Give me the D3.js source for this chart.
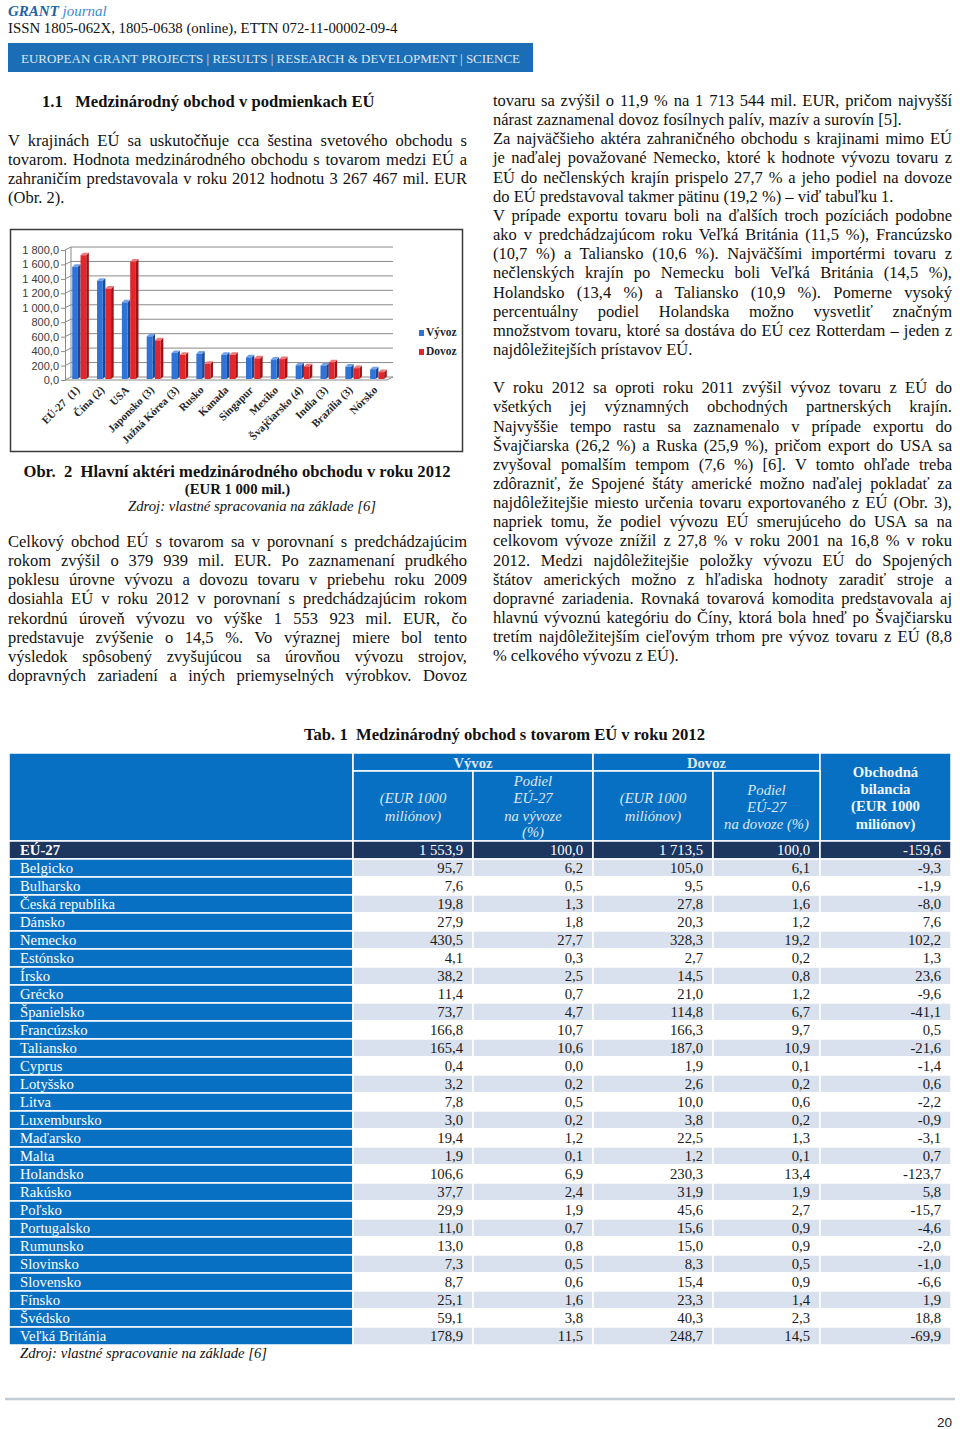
<!DOCTYPE html>
<html><head><meta charset="utf-8">
<script src="https://cdn.jsdelivr.net/npm/d3@7"></script>
<style>
html,body{margin:0;padding:0;background:#fff;}
svg{display:block;}
</style></head><body>
<svg id="page" width="960" height="1429"></svg>
<script>
// ---------------- DATA ----------------
const chartCategories = ["EÚ-27  (1)","Čína (2)","USA","Japonsko (3)","Južná Kórea (3)","Rusko","Kanada","Singapur","Mexiko","Švajčiarsko (4)","India (3)","Brazília (3)","Nórsko"];
const chartExport = [1553.9, 1360, 1060, 590, 360, 350, 335, 300, 270, 190, 185, 170, 135];
const chartImport = [1713.5, 1250, 1625, 535, 335, 210, 335, 285, 275, 175, 230, 150, 95];
const chartSeries = ["Vývoz","Dovoz"];
const yTicks = [0,200,400,600,800,1000,1200,1400,1600,1800];

const tableCountries = ["EÚ-27","Belgicko","Bulharsko","Česká republika","Dánsko","Nemecko","Estónsko","Írsko","Grécko","Španielsko","Francúzsko","Taliansko","Cyprus","Lotyšsko","Litva","Luxembursko","Maďarsko","Malta","Holandsko","Rakúsko","Poľsko","Portugalsko","Rumunsko","Slovinsko","Slovensko","Fínsko","Švédsko","Veľká Británia"];
const exportValues = [1553.9,95.7,7.6,19.8,27.9,430.5,4.1,38.2,11.4,73.7,166.8,165.4,0.4,3.2,7.8,3.0,19.4,1.9,106.6,37.7,29.9,11.0,13.0,7.3,8.7,25.1,59.1,178.9];
const exportShare = [100.0,6.2,0.5,1.3,1.8,27.7,0.3,2.5,0.7,4.7,10.7,10.6,0.0,0.2,0.5,0.2,1.2,0.1,6.9,2.4,1.9,0.7,0.8,0.5,0.6,1.6,3.8,11.5];
const importValues = [1713.5,105.0,9.5,27.8,20.3,328.3,2.7,14.5,21.0,114.8,166.3,187.0,1.9,2.6,10.0,3.8,22.5,1.2,230.3,31.9,45.6,15.6,15.0,8.3,15.4,23.3,40.3,248.7];
const importShare = [100.0,6.1,0.6,1.6,1.2,19.2,0.2,0.8,1.2,6.7,9.7,10.9,0.1,0.2,0.6,0.2,1.3,0.1,13.4,1.9,2.7,0.9,0.9,0.5,0.9,1.4,2.3,14.5];
const tradeBalance = [-159.6,-9.3,-1.9,-8.0,7.6,102.2,1.3,23.6,-9.6,-41.1,0.5,-21.6,-1.4,0.6,-2.2,-0.9,-3.1,0.7,-123.7,5.8,-15.7,-4.6,-2.0,-1.0,-6.6,1.9,18.8,-69.9];

const introLines = [
 "V krajinách EÚ sa uskutočňuje cca šestina svetového obchodu s",
 "tovarom. Hodnota medzinárodného obchodu s tovarom medzi EÚ a",
 "zahraničím  predstavovala v roku 2012 hodnotu 3 267 467 mil. EUR",
 "(Obr. 2)."
];
const leftLowerLines = [
 "Celkový obchod EÚ s tovarom sa v porovnaní s predchádzajúcim",
 "rokom zvýšil o 379 939 mil. EUR. Po zaznamenaní prudkého",
 "poklesu úrovne vývozu a dovozu tovaru v priebehu roku 2009",
 "dosiahla EÚ v roku 2012 v porovnaní s predchádzajúcim rokom",
 "rekordnú úroveň vývozu vo výške 1 553 923 mil. EUR, čo",
 "predstavuje zvýšenie o 14,5 %. Vo výraznej miere bol tento",
 "výsledok spôsobený zvyšujúcou sa úrovňou vývozu strojov,",
 "dopravných zariadení a iných priemyselných výrobkov. Dovoz"
];
const rightParagraphs = [
 ["tovaru sa zvýšil o 11,9 % na 1 713 544 mil. EUR, pričom najvyšší",
  "nárast zaznamenal dovoz fosílnych palív, mazív a surovín [5]."],
 ["Za najväčšieho aktéra zahraničného obchodu s krajinami mimo EÚ",
  "je naďalej považované Nemecko, ktoré k hodnote vývozu tovaru z",
  "EÚ do nečlenských krajín prispelo 27,7 % a jeho podiel na dovoze",
  "do EÚ predstavoval takmer pätinu (19,2 %) – viď tabuľku 1."],
 ["V prípade exportu tovaru boli na ďalších troch pozíciách podobne",
  "ako v predchádzajúcom roku Veľká Británia (11,5 %), Francúzsko",
  "(10,7 %) a Taliansko (10,6 %). Najväčšími importérmi tovaru z",
  "nečlenských krajín po Nemecku boli Veľká Británia (14,5 %),",
  "Holandsko (13,4 %) a Taliansko (10,9 %). Pomerne vysoký",
  "percentuálny podiel Holandska možno vysvetliť značným",
  "množstvom tovaru, ktoré sa dostáva do EÚ cez Rotterdam – jeden z",
  "najdôležitejších prístavov EÚ."],
 ["V roku 2012 sa oproti roku 2011 zvýšil vývoz tovaru z EÚ do",
  "všetkých jej významných obchodných partnerských krajín.",
  "Najvyššie tempo rastu sa zaznamenalo v prípade exportu do",
  "Švajčiarska (26,2 %) a Ruska (25,9 %), pričom export do USA sa",
  "zvyšoval pomalším tempom (7,6 %) [6]. V tomto ohľade treba",
  "zdôrazniť, že Spojené štáty americké možno naďalej pokladať za",
  "najdôležitejšie miesto určenia tovaru exportovaného z EÚ (Obr. 3),",
  "napriek tomu, že podiel vývozu EÚ smerujúceho do USA sa na",
  "celkovom vývoze znížil z 27,8 % v roku 2001 na 16,8 % v roku",
  "2012. Medzi najdôležitejšie položky vývozu EÚ do Spojených",
  "štátov amerických  možno z hľadiska hodnoty zaradiť stroje a",
  "dopravné zariadenia. Rovnaká tovarová komodita predstavovala aj",
  "hlavnú vývoznú kategóriu do Číny, ktorá bola hneď po Švajčiarsku",
  "tretím najdôležitejším cieľovým trhom pre vývoz tovaru z EÚ (8,8",
  "% celkového vývozu z EÚ)."]
];

// ---------------- HELPERS ----------------
const svg = d3.select("#page");
const serif = "'Liberation Serif','Times New Roman',Times,serif";
const sans = "'Liberation Sans',Arial,sans-serif";
const loc = d3.formatLocale({decimal: ",", thousands: " ", grouping: [3], currency: ["", ""], minus: "-"});
const fmt = loc.format(",.1f");

function txt(g, str, x, y, o = {}) {
  const t = g.append("text").attr("x", x).attr("y", y)
    .attr("font-family", o.family || serif)
    .attr("font-size", o.size || 16.5)
    .attr("fill", o.fill || "#111")
    .attr("text-anchor", o.anchor || "start")
    .attr("font-weight", o.weight || "normal")
    .attr("font-style", o.style || "normal")
    .style("white-space", "pre")
    .text(o.justify ? str.replace(/\s+/g, " ") : str);
  if (o.justify) {
    const nat = t.node().getComputedTextLength();
    const n = (str.replace(/\s+/g, " ").match(/ /g) || []).length;
    if (n > 0) t.attr("word-spacing", (o.justify - nat) / n);
  }
  if (o.len) t.attr("textLength", o.len).attr("lengthAdjust", "spacingAndGlyphs");
  return t;
}

// ---------------- PAGE HEADER ----------------
const hdr = svg.append("g");
const gj = hdr.append("text").attr("x", 8).attr("y", 16).attr("font-family", serif).attr("font-size", 15).attr("font-style", "italic");
gj.append("tspan").attr("font-weight", "bold").attr("fill", "#2163a6").text("GRANT");
gj.append("tspan").attr("fill", "#3d8ccf").text(" journal");
txt(hdr, "ISSN 1805-062X, 1805-0638 (online), ETTN 072-11-00002-09-4", 8, 33, {size: 14.8});
hdr.append("rect").attr("x", 8).attr("y", 43).attr("width", 525).attr("height", 29).attr("fill", "#1b6db5");
txt(hdr, "EUROPEAN GRANT PROJECTS | RESULTS | RESEARCH & DEVELOPMENT | SCIENCE", 21, 63, {size: 13.5, fill: "#dce8f4", len: 499});

// ---------------- BODY TEXT ----------------
const body = svg.append("g");
txt(body, "1.1   Medzinárodný obchod v podmienkach EÚ", 42, 107, {weight: "bold", size: 16.6});
const LH = 19.15;
introLines.forEach((l, i) => txt(body, l, 8, 146 + i * LH, {justify: i < introLines.length - 1 ? 459 : 0}));
leftLowerLines.forEach((l, i) => txt(body, l, 8, 547 + i * LH, {justify: 459}));
let idx = 0;
rightParagraphs.forEach((p, pi) => {
  if (pi === 3) idx += 1;
  p.forEach((l, i) => {
    txt(body, l, 493, 106 + idx * LH, {justify: i < p.length - 1 ? 459 : 0});
    idx++;
  });
});

// ---------------- CHART ----------------
const ch = svg.append("g");
ch.append("rect").attr("x", 10.5).attr("y", 229.5).attr("width", 452).attr("height", 222)
  .attr("fill", "#fff").attr("stroke", "#3a3a3a").attr("stroke-width", 1.5);

const wallDX = 6, wallDY = 3;
const yFront = d3.scaleLinear().domain([0, 1800]).range([380, 250]);
const yBack = v => yFront(v) - wallDY;
const axL = 65, backL = axL + wallDX, backR = 393;
const gridCol = "#8a8a8a";

const grid = ch.append("g");
yTicks.forEach(v => {
  grid.append("line").attr("x1", backL).attr("x2", backR).attr("y1", yBack(v)).attr("y2", yBack(v)).attr("stroke", gridCol).attr("stroke-width", 1);
  grid.append("line").attr("x1", axL).attr("x2", backL).attr("y1", yFront(v)).attr("y2", yBack(v)).attr("stroke", gridCol).attr("stroke-width", 1);
});
grid.append("line").attr("x1", backL).attr("x2", backL).attr("y1", yBack(0)).attr("y2", yBack(1800)).attr("stroke", gridCol);
grid.append("line").attr("x1", axL).attr("x2", backR - wallDX).attr("y1", yFront(0)).attr("y2", yFront(0)).attr("stroke", gridCol);
grid.append("line").attr("x1", backR - wallDX).attr("x2", backR).attr("y1", yFront(0)).attr("y2", yBack(0)).attr("stroke", gridCol);

const yAxis = d3.axisLeft(yFront).tickValues(yTicks).tickFormat(fmt).tickSize(4).tickPadding(2);
const yg = ch.append("g").attr("transform", `translate(${axL},0)`).call(yAxis);
yg.select(".domain").attr("stroke", gridCol);
yg.selectAll(".tick line").attr("stroke", gridCol);
yg.selectAll(".tick text").attr("font-family", sans).attr("font-size", 11).attr("fill", "#3a3a3a");

const x = d3.scaleBand().domain(chartCategories).range([68, 391]).paddingInner(0.33).paddingOuter(0.17);
const xs = d3.scaleBand().domain(chartSeries).range([0, x.bandwidth()]);
const colors = {
  "Vývoz": {front: "#2f72d8", side: "#1b4896", top: "#74a3ec"},
  "Dovoz": {front: "#e3262b", side: "#9e1416", top: "#f07a7a"}
};
const bdx = 2.6, bdy = 2.6;
const barsG = ch.append("g");
chartCategories.forEach((c, i) => {
  [["Vývoz", chartExport[i]], ["Dovoz", chartImport[i]]].forEach(([s, v]) => {
    const x0 = x(c) + xs(s), x1 = x0 + xs.bandwidth() - bdx;
    const yt = yFront(v) - 1, yb = yFront(0) - 1;
    const col = colors[s];
    barsG.append("polygon").attr("points", [[x1, yt], [x1 + bdx, yt - bdy], [x1 + bdx, yb - bdy], [x1, yb]].join(" ")).attr("fill", col.side);
    barsG.append("polygon").attr("points", [[x0, yt], [x0 + bdx, yt - bdy], [x1 + bdx, yt - bdy], [x1, yt]].join(" ")).attr("fill", col.top);
    barsG.append("rect").attr("x", x0).attr("y", yt).attr("width", x1 - x0).attr("height", yb - yt).attr("fill", col.front);
  });
});

const xAxis = d3.axisBottom(x).tickSize(0).tickPadding(0);
const xg = ch.append("g").attr("transform", `translate(-3,${yFront(0) + 8})`).call(xAxis);
xg.select(".domain").remove();
xg.selectAll(".tick text")
  .attr("font-family", serif).attr("font-weight", "bold").attr("font-size", 11).attr("fill", "#262626")
  .attr("text-anchor", "end").attr("dy", "0.35em").attr("y", 0).attr("x", 0)
  .attr("transform", "rotate(-45)").style("white-space", "pre");

const lg = ch.append("g");
chartSeries.forEach((s, i) => {
  lg.append("rect").attr("x", 419).attr("y", 330 + i * 19).attr("width", 5).attr("height", 6).attr("fill", colors[s].front);
  txt(lg, s, 426, 336 + i * 19, {size: 11.5, weight: "bold", fill: "#262626"});
});

txt(body, "Obr.  2  Hlavní aktéri medzinárodného obchodu v roku 2012", 237, 477, {weight: "bold", size: 16.6, anchor: "middle"});
txt(body, "(EUR 1 000 mil.)", 237.5, 494, {weight: "bold", size: 14.7, anchor: "middle"});
txt(body, "Zdroj: vlastné spracovania na základe [6]", 252, 511, {style: "italic", size: 14.7, anchor: "middle"});

// ---------------- TABLE ----------------
const tb = svg.append("g");
txt(tb, "Tab. 1  Medzinárodný obchod s tovarom EÚ v roku 2012", 504.5, 740, {weight: "bold", size: 16.6, anchor: "middle"});
const colX = [9, 353, 473, 593, 713, 820, 951];
const hdrBlue = "#0870c2", navy = "#1c365f", light = "#d9e1ee";
const hTop = 753, hMid = 771, hBot = 841;
function cell(x0, y0, x1, y1, fill) {
  tb.append("rect").attr("x", x0).attr("y", y0).attr("width", x1 - x0).attr("height", y1 - y0)
    .attr("fill", fill).attr("stroke", "#fff").attr("stroke-width", 1.5);
}
cell(colX[0], hTop, colX[1], hBot, hdrBlue);
cell(colX[1], hTop, colX[3], hMid, hdrBlue);
cell(colX[3], hTop, colX[5], hMid, hdrBlue);
cell(colX[5], hTop, colX[6], hBot, hdrBlue);
for (let c = 1; c < 5; c++) cell(colX[c], hMid, colX[c + 1], hBot, hdrBlue);
const hf = "#dfe8f4";
txt(tb, "Vývoz", (colX[1] + colX[3]) / 2, 768, {weight: "bold", size: 14.7, fill: hf, anchor: "middle"});
txt(tb, "Dovoz", (colX[3] + colX[5]) / 2, 768, {weight: "bold", size: 14.7, fill: hf, anchor: "middle"});
const hIt = {style: "italic", size: 14.7, fill: hf, anchor: "middle"};
[["(EUR 1000", 803], ["miliónov)", 821]].forEach(([s, y]) => {
  txt(tb, s, (colX[1] + colX[2]) / 2, y, hIt);
  txt(tb, s, (colX[3] + colX[4]) / 2, y, hIt);
});
[["Podiel", 786], ["EÚ-27", 803], ["na vývoze", 821], ["(%)", 837]].forEach(([s, y]) => txt(tb, s, (colX[2] + colX[3]) / 2, y, hIt));
[["Podiel", 795], ["EÚ-27", 812], ["na dovoze (%)", 829]].forEach(([s, y]) => txt(tb, s, (colX[4] + colX[5]) / 2, y, hIt));
[["Obchodná", 777], ["bilancia", 794], ["(EUR 1000", 811], ["miliónov)", 829]].forEach(([s, y]) =>
  txt(tb, s, (colX[5] + colX[6]) / 2, y, {weight: "bold", size: 14.7, fill: "#f2f6fb", anchor: "middle"}));

const yRow = d3.scaleBand().domain(tableCountries).range([hBot, 1345]);
const cols = [exportValues, exportShare, importValues, importShare, tradeBalance];
tableCountries.forEach((name, r) => {
  const y0 = yRow(name), y1 = y0 + yRow.bandwidth();
  const isEU = r === 0;
  cell(colX[0], y0, colX[1], y1, isEU ? navy : hdrBlue);
  txt(tb, name, 20, y0 + 14, {size: 14.7, fill: "#fff", weight: isEU ? "bold" : "normal"});
  cols.forEach((arr, c) => {
    const fill = isEU ? navy : (r % 2 === 1 ? light : "#ffffff");
    cell(colX[c + 1], y0, colX[c + 2], y1, fill);
    txt(tb, fmt(arr[r]), colX[c + 2] - 10, y0 + 14, {size: 14.7, fill: isEU ? "#fff" : "#1a1a1a", anchor: "end"});
  });
});
txt(tb, "Zdroj: vlastné spracovanie na základe [6]", 20, 1358, {style: "italic", size: 14.7});

// ---------------- FOOTER ----------------
svg.append("line").attr("x1", 5).attr("x2", 955).attr("y1", 1399).attr("y2", 1399).attr("stroke", "#c4ccd3").attr("stroke-width", 2.5);
txt(svg, "20", 952, 1427, {family: sans, size: 13.5, fill: "#222", anchor: "end"});
</script>
</body></html>
